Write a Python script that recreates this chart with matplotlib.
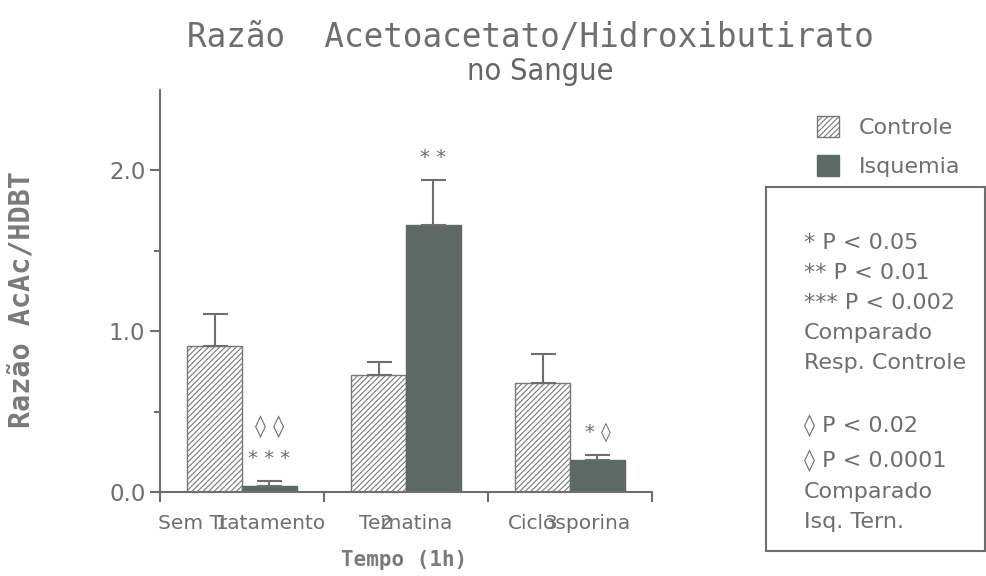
import numpy as np
import matplotlib
matplotlib.use("Agg")
import matplotlib.pyplot as plt
from matplotlib.patches import Rectangle

# Razão AcAc/HDBT no sangue - controle vs isquemia, 3 tratamentos

groups = ["Sem Tratamento", "Ternatina", "Ciclosporina"]
group_numbers = ["1", "2", "3"]
controle = [0.91, 0.73, 0.68]
controle_err = [0.20, 0.08, 0.18]
isquemia = [0.04, 1.66, 0.20]
isquemia_err = [0.03, 0.28, 0.03]
isquemia_marks = [("\u25ca \u25ca", "* * *"), ("* *",), ("* \u25ca",)]

legend_labels = ["Controle", "Isquemia"]
notes = ["* P < 0.05", "** P < 0.01", "*** P < 0.002", "Comparado",
         "Resp. Controle", "", "\u25ca P < 0.02", "\u25ca P < 0.0001",
         "Comparado", "Isq. Tern."]

GRAY = "#6e6e6e"
DARK = "#5c6964"
plt.rcParams["font.family"] = ["DejaVu Sans"]
plt.rcParams["hatch.linewidth"] = 0.8
plt.rcParams["hatch.color"] = "#777777"


def main() -> None:
    fig = plt.figure(figsize=(9.87, 5.76), dpi=100)
    ax = fig.add_axes([160 / 987, 1 - 492 / 576, 492 / 987, 402 / 576])

    x = np.arange(1, len(groups) + 1)
    w = 0.335
    ax.bar(x - w / 2, controle, w, color="white", edgecolor="#777777",
           hatch="//////", linewidth=1.0, label=legend_labels[0])
    ax.bar(x + w / 2, isquemia, w, color=DARK, edgecolor=DARK,
           linewidth=1.0, label=legend_labels[1])
    ax.errorbar(x - w / 2, controle, yerr=[np.zeros(3), controle_err],
                fmt="none", ecolor=GRAY, elinewidth=1.5, capsize=9, capthick=1.5)
    ax.errorbar(x + w / 2, isquemia, yerr=[np.zeros(3), isquemia_err],
                fmt="none", ecolor=GRAY, elinewidth=1.5, capsize=9, capthick=1.5)

    # significance marks above the isquemia bars (bottom mark first)
    for xi, top, marks in zip(x + w / 2, np.add(isquemia, isquemia_err), isquemia_marks):
        for k, m in enumerate(reversed(marks)):
            size = 16 if "\u25ca" in m and "*" not in m else 14
            ax.text(xi, top + 0.14 + k * 0.20, m, ha="center", va="center",
                    fontsize=size, color=GRAY)

    ax.set_xlim(0.5, 3.5)
    ax.set_ylim(0, 2.5)
    ax.set_xticks([0.5, 1.5, 2.5, 3.5])
    ax.set_xticklabels([])
    ax.set_yticks([0, 1, 2])
    ax.set_yticklabels(["0.0", "1.0", "2.0"])
    ax.set_yticks([0.5, 1.5], minor=True)
    ax.tick_params(axis="both", colors=GRAY, labelsize=16.5, width=1.5, length=7)
    ax.tick_params(axis="y", which="minor", colors=GRAY, width=1.5, length=4)
    for side in ["top", "right"]:
        ax.spines[side].set_visible(False)
    for side in ["left", "bottom"]:
        ax.spines[side].set_color(GRAY)
        ax.spines[side].set_linewidth(1.5)

    for xi, name, num in zip(x, groups, group_numbers):
        ax.text(xi, -0.195, name, ha="center", va="center", fontsize=14.5, color=GRAY)
        ax.text(xi - 0.12, -0.195, num, ha="center", va="center", fontsize=14.5, color=GRAY)

    fig.text(530 / 987, 1 - 38 / 576, "Razão  Acetoacetato/Hidroxibutirato",
             ha="center", va="center", fontsize=23.5, color=GRAY,
             family="DejaVu Sans Mono")
    fig.text(540 / 987, 1 - 72 / 576, "no Sangue", ha="center", va="center",
             fontsize=22, color="#666666", fontstretch="condensed")
    fig.text(22 / 987, 1 - 300 / 576, "Razão AcAc/HDBT", rotation=90,
             ha="center", va="center", fontsize=20.5, color="#7a7a7a",
             family="DejaVu Sans Mono", fontweight="bold")
    fig.text(404 / 987, 1 - 560 / 576, "Tempo (1h)", ha="center", va="center",
             fontsize=15, color="#7a7a7a", family="DejaVu Sans Mono",
             fontweight="bold")

    handles, labels = ax.get_legend_handles_labels()
    leg = fig.legend(handles, labels, loc="upper left",
                     bbox_to_anchor=(797 / 987, 1 - 96 / 576), frameon=False,
                     fontsize=16, handlelength=1.0, handleheight=1.1,
                     handletextpad=0.9, labelspacing=0.75)
    for t in leg.get_texts():
        t.set_color(GRAY)

    fig.patches.append(Rectangle((766 / 987, 1 - 551 / 576), 219 / 987, 364 / 576,
                                 transform=fig.transFigure, fill=False,
                                 edgecolor=GRAY, linewidth=1.5))
    fig.text(804 / 987, 1 - 233 / 576, "\n".join(notes), ha="left", va="top",
             fontsize=16, color=GRAY, linespacing=1.63)

    fig.savefig("out.png", dpi=100)


if __name__ == "__main__":
    main()
